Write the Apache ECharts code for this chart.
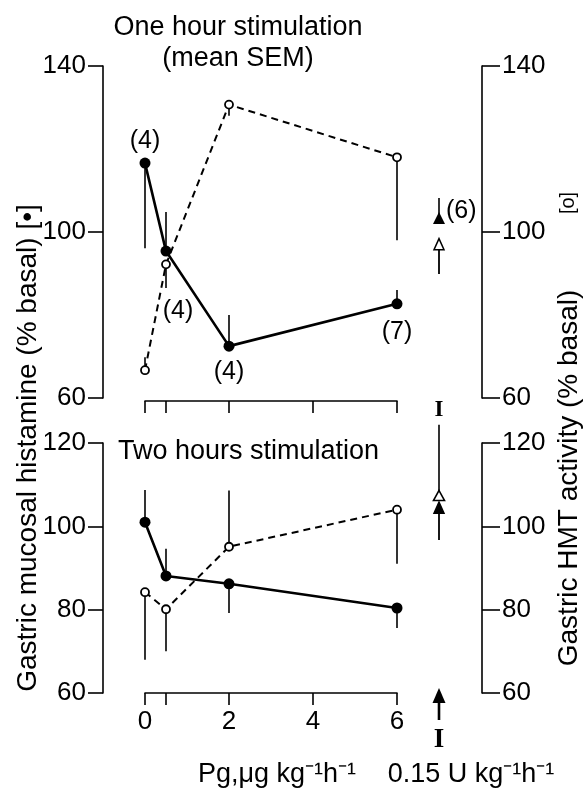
<!DOCTYPE html>
<html><head><meta charset="utf-8">
<script src="https://cdn.jsdelivr.net/npm/echarts@6/dist/echarts.min.js"></script>
<style>html,body{margin:0;padding:0;background:#fff}#c{width:585px;height:790px}</style>
</head><body><div id="c"></div>
<script>
// ---------- data ----------
const doseX = [0, 0.5, 2, 6];
const xTickValues = [0, 0.5, 2, 4, 6];
const xLabelValues = [0, 2, 4, 6];
// One hour stimulation
const oneHistMean = [116.6, 95.4, 72.5, 82.7];
const oneHistErr  = [96.1, 104.8, 80.0, 86.0];
const oneHistN    = [4, 4, 4, 7];
const oneHmtMean  = [66.7, 92.2, 130.7, 118.0];
const oneHmtErr   = [69.8, 86.5, 128.0, 98.0];
// Two hours stimulation
const twoHistMean = [101.0, 88.1, 86.2, 80.4];
const twoHistErr  = [108.7, 94.6, 79.2, 75.6];
const twoHmtMean  = [84.2, 80.1, 95.1, 104.0];
const twoHmtErr   = [68.0, 70.0, 108.6, 91.0];
// Insulin 0.15 U kg-1 h-1
const insulinX = 7;
const oneInsHist = [103.4], oneInsHistErr = [108.2], oneInsN = [6];
const oneInsHmtArrow = [89.9, 98.4];   // tail, tip
const twoInsHmt = [107.4], twoInsHmtErr = [124.4];
const twoInsHistArrow = [96.7, 105.8]; // tail, tip
// axes
const topRange = [60, 140], topStep = 40;
const botRange = [60, 120], botStep = 20;

// ---------- styles ----------
const FONT = '"Liberation Sans", Arial, Helvetica, sans-serif';
const BLACK = '#000';

function yAxis(grid, range, step, pos) {
  return {
    type: 'value', gridIndex: grid, min: range[0], max: range[1], interval: step,
    position: pos, offset: pos === 'left' ? 42 : 85,
    axisLine: {show: true, onZero: false, lineStyle: {color: BLACK, width: 1.6}},
    axisTick: {show: true, length: pos === 'left' ? 15 : 18, lineStyle: {color: BLACK, width: 1.6}},
    axisLabel: {color: BLACK, fontSize: 26, fontFamily: FONT, margin: pos === 'left' ? 17 : 20},
    splitLine: {show: false}
  };
}
function xAxis(grid, withLabels, offset) {
  return {
    type: 'value', gridIndex: grid, min: 0, max: 6, interval: 2, offset: offset, position: 'bottom',
    axisLine: {show: true, onZero: false, lineStyle: {color: BLACK, width: 1.6}},
    axisTick: {show: true, length: 12, customValues: xTickValues, lineStyle: {color: BLACK, width: 1.6}},
    axisLabel: withLabels ? {show: true, customValues: xLabelValues, color: BLACK, fontSize: 26, fontFamily: FONT, margin: 16} : {show: false},
    splitLine: {show: false}
  };
}
function errSeries(xi, yi, xs, means, ends) {
  return {
    type: 'custom', xAxisIndex: xi, yAxisIndex: yi, clip: false, z: 1, silent: true,
    data: xs.map((x, i) => [x, means[i], ends[i]]),
    renderItem: (p, api) => {
      const a = api.coord([api.value(0), api.value(1)]);
      const b = api.coord([api.value(0), api.value(2)]);
      return {type: 'line', shape: {x1: a[0], y1: a[1], x2: b[0], y2: b[1]}, style: {stroke: BLACK, lineWidth: 1.6}};
    }
  };
}
function arrowSeries(xi, yi, x, tailTip, filled) {
  return {
    type: 'custom', xAxisIndex: xi, yAxisIndex: yi, clip: false, z: 3, silent: true,
    data: [[x, tailTip[0], tailTip[1]]],
    renderItem: (p, api) => {
      const a = api.coord([api.value(0), api.value(1)]);
      const b = api.coord([api.value(0), api.value(2)]);
      const hw = 5, hh = 11;
      return {type: 'group', children: [
        {type: 'line', shape: {x1: a[0], y1: a[1], x2: b[0], y2: b[1] + hh}, style: {stroke: BLACK, lineWidth: 1.8}},
        {type: 'polygon', shape: {points: [[b[0], b[1]], [b[0] - hw, b[1] + hh], [b[0] + hw, b[1] + hh]]},
         style: {fill: filled ? BLACK : '#fff', stroke: BLACK, lineWidth: 1.5}}
      ]};
    }
  };
}
// insulin column marker (the "I" labels / arrow under the bottom axis)
function insulinMark(xi, yi, yBase, withArrow) {
  return {
    type: 'custom', xAxisIndex: xi, yAxisIndex: yi, clip: false, z: 3, silent: true,
    data: [[insulinX, yBase]],
    renderItem: (p, api) => {
      const c = api.coord([api.value(0), api.value(1)]);
      const kids = [];
      if (withArrow) {
        kids.push({type: 'line', shape: {x1: c[0], y1: c[1] + 27, x2: c[0], y2: c[1] + 8}, style: {stroke: BLACK, lineWidth: 2.6}});
        kids.push({type: 'polygon', shape: {points: [[c[0], c[1] - 5], [c[0] - 6.5, c[1] + 10], [c[0] + 6.5, c[1] + 10]]}, style: {fill: BLACK}});
        kids.push({type: 'text', style: {x: c[0], y: c[1] + 47, text: 'I', fontSize: 27, fontWeight: 'bold', fontFamily: '"Liberation Serif", "DejaVu Serif", serif', align: 'center', verticalAlign: 'middle', fill: BLACK}});
      } else {
        kids.push({type: 'text', style: {x: c[0], y: c[1] + 12, text: 'I', fontSize: 23, fontWeight: 'bold', fontFamily: '"Liberation Serif", "DejaVu Serif", serif', align: 'center', verticalAlign: 'middle', fill: BLACK}});
      }
      return {type: 'group', children: kids};
    }
  };
}
const nLabelPlace = [
  {position: 'top', distance: 4},
  {position: 'bottom', distance: 5, offset: [12, 37]},
  {position: 'bottom', distance: 8},
  {position: 'bottom', distance: 10}
];
const labelText = {color: BLACK, fontSize: 25, fontFamily: FONT};

function filledLine(xi, yi, means, ns) {
  return {
    type: 'line', xAxisIndex: xi, yAxisIndex: yi, clip: false, z: 4,
    symbol: 'circle', symbolSize: 11,
    itemStyle: {color: BLACK, opacity: 1},
    lineStyle: {color: BLACK, width: 2.6},
    data: doseX.map((x, i) => ns ? {value: [x, means[i]], label: Object.assign({show: true, formatter: '(' + ns[i] + ')'}, labelText, nLabelPlace[i])} : [x, means[i]])
  };
}
function openLine(xi, yi, means) {
  return {
    type: 'line', xAxisIndex: xi, yAxisIndex: yi, clip: false, z: 5,
    symbol: 'circle', symbolSize: 8,
    itemStyle: {color: '#fff', borderColor: BLACK, borderWidth: 1.8, opacity: 1},
    lineStyle: {color: BLACK, width: 2, type: [7, 5]},
    data: doseX.map((x, i) => [x, means[i]])
  };
}

const option = {
  animation: false,
  backgroundColor: '#fff',
  grid: [
    {left: 145, width: 252, top: 66, height: 332},
    {left: 145, width: 252, top: 443, height: 250}
  ],
  xAxis: [xAxis(0, false, 3), xAxis(1, true, 0)],
  yAxis: [
    yAxis(0, topRange, topStep, 'left'), yAxis(0, topRange, topStep, 'right'),
    yAxis(1, botRange, botStep, 'left'), yAxis(1, botRange, botStep, 'right')
  ],
  series: [
    // one hour
    errSeries(0, 0, doseX, oneHistMean, oneHistErr),
    errSeries(0, 1, doseX, oneHmtMean, oneHmtErr),
    filledLine(0, 0, oneHistMean, oneHistN),
    openLine(0, 1, oneHmtMean),
    errSeries(0, 0, [insulinX], oneInsHist, oneInsHistErr),
    {type: 'scatter', xAxisIndex: 0, yAxisIndex: 0, clip: false, z: 4, symbol: 'triangle', symbolSize: [12, 12],
     itemStyle: {color: BLACK, opacity: 1},
     data: oneInsHist.map((v, i) => ({value: [insulinX, v], label: Object.assign({show: true, formatter: '(' + oneInsN[i] + ')', position: 'right', distance: 1, offset: [0, -7]}, labelText)}))},
    arrowSeries(0, 1, insulinX, oneInsHmtArrow, false),
    insulinMark(0, 0, topRange[0], false),
    // two hours
    errSeries(1, 2, doseX, twoHistMean, twoHistErr),
    errSeries(1, 3, doseX, twoHmtMean, twoHmtErr),
    filledLine(1, 2, twoHistMean, null),
    openLine(1, 3, twoHmtMean),
    errSeries(1, 3, [insulinX], twoInsHmt, twoInsHmtErr),
    {type: 'scatter', xAxisIndex: 1, yAxisIndex: 3, clip: false, z: 4, symbol: 'triangle', symbolSize: [11, 10],
     itemStyle: {color: '#fff', borderColor: BLACK, borderWidth: 1.6, opacity: 1},
     data: twoInsHmt.map(v => [insulinX, v])},
    arrowSeries(1, 2, insulinX, twoInsHistArrow, true),
    insulinMark(1, 2, botRange[0], true)
  ],
  graphic: [
    {type: 'text', x: 238, y: 28, style: {text: 'One hour stimulation', fontSize: 27, fontFamily: FONT, fill: BLACK, align: 'center', verticalAlign: 'middle'}},
    {type: 'text', x: 238, y: 59, style: {text: '(mean SEM)', fontSize: 27, fontFamily: FONT, fill: BLACK, align: 'center', verticalAlign: 'middle'}},
    {type: 'text', x: 118, y: 452, style: {text: 'Two hours stimulation', fontSize: 27, fontFamily: FONT, fill: BLACK, align: 'left', verticalAlign: 'middle'}},
    {type: 'text', x: 28, y: 448, rotation: Math.PI / 2, style: {text: 'Gastric mucosal histamine (% basal) [•]', fontSize: 28, fontFamily: FONT, fill: BLACK, align: 'center', verticalAlign: 'middle'}},
    {type: 'text', x: 569, y: 478, rotation: Math.PI / 2, style: {text: 'Gastric HMT activity (% basal)', fontSize: 28, fontFamily: FONT, fill: BLACK, align: 'center', verticalAlign: 'middle'}},
    {type: 'text', x: 568, y: 203, rotation: Math.PI / 2, style: {text: '[o]', fontSize: 20, fontFamily: FONT, fill: BLACK, align: 'center', verticalAlign: 'middle'}},
    {type: 'text', x: 277, y: 775, style: {text: 'Pg,μg kg⁻¹h⁻¹', fontSize: 27, fontFamily: FONT, fill: BLACK, align: 'center', verticalAlign: 'middle'}},
    {type: 'text', x: 471, y: 775, style: {text: '0.15 U kg⁻¹h⁻¹', fontSize: 27, fontFamily: FONT, fill: BLACK, align: 'center', verticalAlign: 'middle'}}
  ]
};
const chart = echarts.init(document.getElementById('c'), null, {renderer: 'canvas'});
chart.setOption(option);
</script>
</body></html>
